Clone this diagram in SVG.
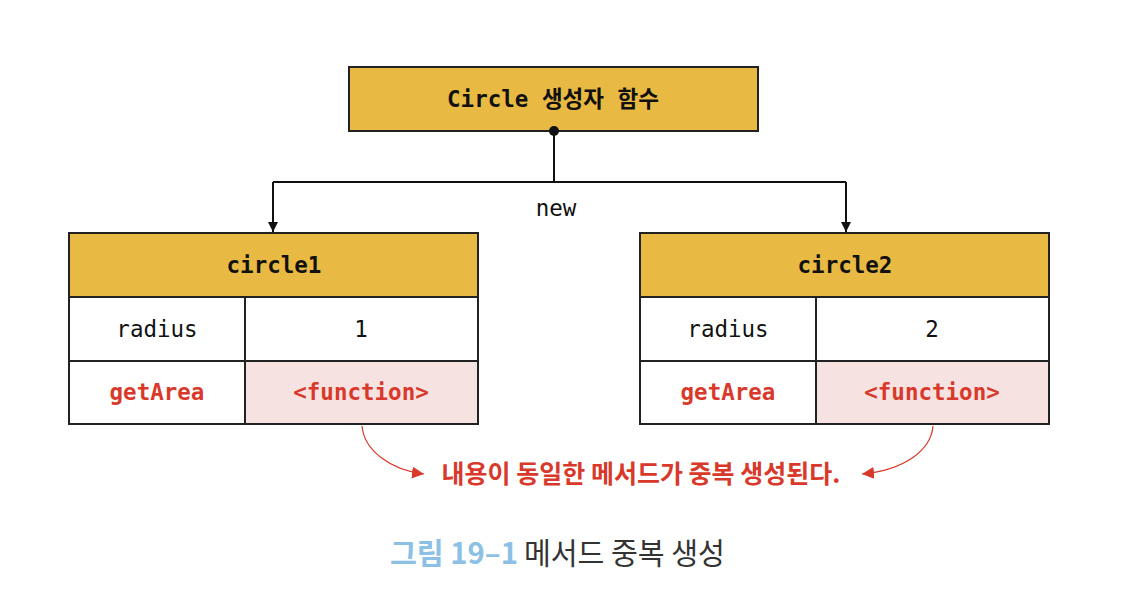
<svg xmlns="http://www.w3.org/2000/svg" width="1126" height="612" viewBox="0 0 1126 612">
<style>
.box{stroke:#222;stroke-width:2}
.hdr{fill:#E8B943}
.cell{fill:#fff}
.fn{fill:#F6E2E1}
.mono{font-family:"DejaVu Sans Mono","Liberation Mono","Noto Sans CJK KR",monospace;font-size:22.5px;fill:#111;text-anchor:middle;dominant-baseline:central}
.b{font-weight:bold}
.red{fill:#D8392B}
.conn{stroke:#111;stroke-width:2;fill:none}
.rconn{stroke:#D8392B;stroke-width:1.2;fill:none}
.note{font-family:"Noto Sans CJK KR","Noto Sans",sans-serif;font-size:25px;font-weight:bold;fill:#D8392B;text-anchor:middle;dominant-baseline:central}
.cap{font-family:"Noto Sans CJK KR","Noto Sans",sans-serif;font-size:29.2px;dominant-baseline:central}
</style>
<defs>
<marker id="ah" viewBox="0 0 10 10" refX="10" refY="5" markerWidth="10" markerHeight="10" markerUnits="userSpaceOnUse" orient="auto"><path d="M0,0 L10,5 L0,10 Z" fill="#111"/></marker>
<marker id="rh" viewBox="0 0 10 10" refX="10" refY="5" markerWidth="12" markerHeight="12" markerUnits="userSpaceOnUse" orient="auto"><path d="M0,0 L10,5 L0,10 Z" fill="#D8392B"/></marker>
</defs>
<rect width="1126" height="612" fill="#fff"/>
<g id="ctor">
<rect class="box hdr" x="349" y="67" width="409" height="64"/>
<text class="mono b" x="553" y="99">Circle 생성자 함수</text>
</g>
<g id="circle1">
<rect class="box hdr" x="69" y="233" width="409" height="64"/>
<rect class="box cell" x="69" y="297" width="176" height="64"/>
<rect class="box cell" x="245" y="297" width="233" height="64"/>
<rect class="box cell" x="69" y="361" width="176" height="63"/>
<rect class="box fn" x="245" y="361" width="233" height="63"/>
<text class="mono b" x="274" y="265">circle1</text>
<text class="mono" x="157" y="329">radius</text>
<text class="mono" x="361" y="329">1</text>
<text class="mono b red" x="157" y="392">getArea</text>
<text class="mono b red" x="361" y="392">&lt;function&gt;</text>
</g>
<g id="circle2">
<rect class="box hdr" x="640" y="233" width="409" height="64"/>
<rect class="box cell" x="640" y="297" width="176" height="64"/>
<rect class="box cell" x="816" y="297" width="233" height="64"/>
<rect class="box cell" x="640" y="361" width="176" height="63"/>
<rect class="box fn" x="816" y="361" width="233" height="63"/>
<text class="mono b" x="845" y="265">circle2</text>
<text class="mono" x="728" y="329">radius</text>
<text class="mono" x="932" y="329">2</text>
<text class="mono b red" x="728" y="392">getArea</text>
<text class="mono b red" x="932" y="392">&lt;function&gt;</text>
</g>
<g id="connectors">
<circle cx="554" cy="131" r="5" fill="#111"/>
<path class="conn" d="M554,131 V182"/>
<path class="conn" d="M273,182 H846"/>
<path class="conn" d="M273,182 V232" marker-end="url(#ah)"/>
<path class="conn" d="M846,182 V232" marker-end="url(#ah)"/>
<text class="mono" x="556" y="208">new</text>
<path class="rconn" d="M362,426 C364,450 390,470 424,474" marker-end="url(#rh)"/>
<path class="rconn" d="M933,426 C931,450 905,470 862,474" marker-end="url(#rh)"/>
</g>
<text class="note" x="641" y="472">내용이 동일한 메서드가 중복 생성된다.</text>
<text class="cap" x="390" y="551"><tspan fill="#8CC0E5" font-weight="bold">그림 19–1</tspan><tspan fill="#333" dx="6">메서드 중복 생성</tspan></text>
</svg>
